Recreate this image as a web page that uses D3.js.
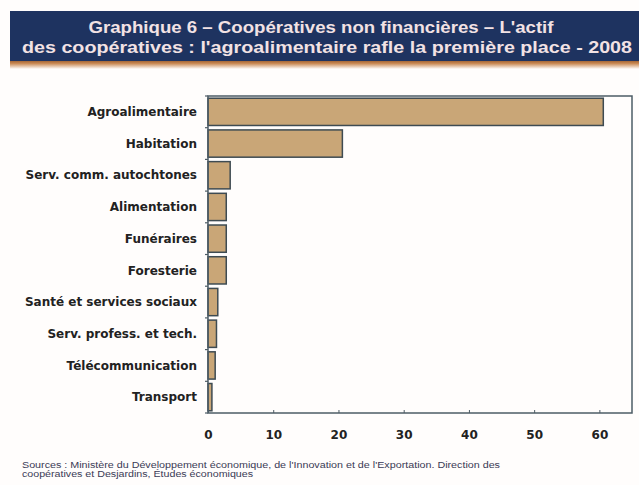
<!DOCTYPE html>
<html>
<head>
<meta charset="utf-8">
<script src="https://cdn.jsdelivr.net/npm/d3@7"></script>
<style>
  body { margin: 0; background: #fffdfc; }
  svg { display: block; }
</style>
</head>
<body>
<svg id="chart" width="639" height="485"></svg>
<script>
const categories = [
    'Agroalimentaire',
    'Habitation',
    'Serv. comm. autochtones',
    'Alimentation',
    'Funéraires',
    'Foresterie',
    'Santé et services sociaux',
    'Serv. profess. et tech.',
    'Télécommunication',
    'Transport'
]
const values = [60.6, 20.6, 3.4, 2.8, 2.8, 2.8, 1.5, 1.3, 1.1, 0.6]
const xTicks = [0, 10, 20, 30, 40, 50, 60]
const titleLines = [
    'Graphique 6 – Coopératives non financières – L\'actif',
    'des coopératives : l\'agroalimentaire rafle la première place - 2008'
]
const sourceLines = [
    'Sources : Ministère du Développement économique, de l\'Innovation et de l\'Exportation. Direction des',
    'coopératives et Desjardins, Études économiques'
]

const svg = d3.select('#chart')
const margin = { top: 96, right: 7, bottom: 72, left: 208 }
const width = 639 - margin.left - margin.right
const height = 485 - margin.top - margin.bottom

// title banner
const defs = svg.append('defs')
const grad = defs.append('linearGradient')
    .attr('id', 'shadow')
    .attr('x1', 0).attr('x2', 0).attr('y1', 0).attr('y2', 1)
grad.append('stop').attr('offset', '0%').attr('stop-color', '#8a4a1c')
grad.append('stop').attr('offset', '45%').attr('stop-color', '#c98a55')
grad.append('stop').attr('offset', '100%').attr('stop-color', '#fffdfc')

svg.append('rect')
    .attr('x', 10).attr('y', 59).attr('width', 629).attr('height', 10)
    .attr('fill', 'url(#shadow)')
svg.append('rect')
    .attr('x', 10).attr('y', 11).attr('width', 629).attr('height', 50)
    .attr('fill', '#1e3360')

const titleSpans = [{ cx: 321, len: 465 }, { cx: 327, len: 610 }]
svg.append('g')
    .selectAll('text')
    .data(titleLines)
    .join('text')
    .attr('x', (d, i) => titleSpans[i].cx)
    .attr('y', (d, i) => 33 + i * 20)
    .attr('text-anchor', 'middle')
    .attr('textLength', (d, i) => titleSpans[i].len)
    .attr('lengthAdjust', 'spacingAndGlyphs')
    .attr('font-family', '"Liberation Sans", Arial, sans-serif')
    .attr('font-weight', 'bold')
    .attr('font-size', 17)
    .attr('fill', '#f2e2e4')
    .text(d => d)

const chart = svg.append('g')
    .attr('transform', `translate(${margin.left}, ${margin.top})`)

const x = d3.scaleLinear().domain([0, 65]).range([0, width])
const y = d3.scaleBand().domain(categories).range([0, height]).paddingInner(0.14).paddingOuter(0.07)

chart.append('g')
    .selectAll('rect')
    .data(values)
    .join('rect')
    .attr('x', x(0))
    .attr('y', (d, i) => y(categories[i]))
    .attr('width', d => x(d) - x(0))
    .attr('height', y.bandwidth())
    .attr('fill', '#c9a677')
    .attr('stroke', '#3e4b52')
    .attr('stroke-width', 1.5)

// frame
chart.append('rect')
    .attr('width', width)
    .attr('height', height)
    .attr('fill', 'none')
    .attr('stroke', '#4d5c66')
    .attr('stroke-width', 1.5)

const yTickPositions = d3.range(categories.length + 1).map(i => i * height / categories.length)
chart.append('g')
    .selectAll('line')
    .data(yTickPositions)
    .join('line')
    .attr('x1', -3).attr('x2', 0)
    .attr('y1', d => d).attr('y2', d => d)
    .attr('stroke', '#4d5c66')
    .attr('stroke-width', 1.2)

chart.append('g')
    .selectAll('text')
    .data(categories)
    .join('text')
    .attr('x', -11)
    .attr('y', d => y(d) + y.bandwidth() / 2)
    .attr('dy', '0.35em')
    .attr('text-anchor', 'end')
    .attr('font-family', '"DejaVu Sans", Verdana, sans-serif')
    .attr('font-weight', 'bold')
    .attr('font-size', 12)
    .attr('fill', '#222')
    .text(d => d)

chart.append('g')
    .attr('transform', `translate(0, ${height})`)
    .call(d3.axisBottom(x).tickValues(xTicks).tickSize(3).tickPadding(14))
    .call(g => g.select('.domain').remove())
    .call(g => g.selectAll('line').attr('stroke', '#4d5c66').attr('transform', 'translate(0,-3)'))
    .call(g => g.selectAll('text')
        .attr('font-family', '"DejaVu Sans", Verdana, sans-serif')
        .attr('font-weight', 'bold')
        .attr('font-size', 12)
        .attr('fill', '#222'))

const sourceLengths = [478, 231]
svg.append('g')
    .selectAll('text')
    .data(sourceLines)
    .join('text')
    .attr('x', 22)
    .attr('y', (d, i) => 468 + i * 9)
    .attr('textLength', (d, i) => sourceLengths[i])
    .attr('lengthAdjust', 'spacingAndGlyphs')
    .attr('font-family', '"Liberation Sans", Arial, sans-serif')
    .attr('font-size', 8.5)
    .attr('fill', '#3a3a55')
    .text(d => d)
</script>
</body>
</html>
